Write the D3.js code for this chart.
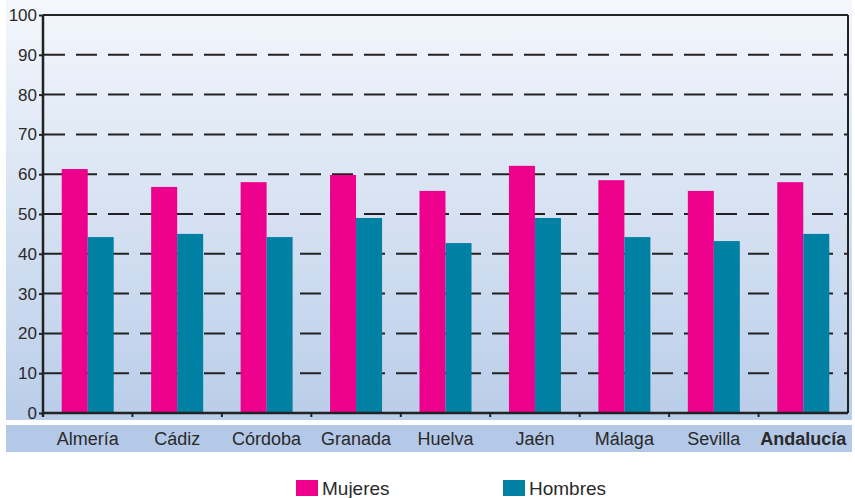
<!DOCTYPE html>
<html><head><meta charset="utf-8">
<script src="https://cdn.jsdelivr.net/npm/d3@7"></script>
<style>body{margin:0;background:#fff}svg{display:block}text{font-family:"Liberation Sans",Arial,sans-serif;fill:#2a2a2a}</style>
</head><body><svg id="c" width="855" height="498"></svg>
<script>
const categories = ["Almería","Cádiz","Córdoba","Granada","Huelva","Jaén","Málaga","Sevilla","Andalucía"];
const mujeres = [61.3,56.8,58.0,59.8,55.8,62.1,58.5,55.8,58.0];
const hombres = [44.2,45.0,44.2,49.0,42.7,49.0,44.2,43.2,45.0];
const seriesNames = ["Mujeres","Hombres"];
const seriesColors = ["#ec008c","#0080a3"];
const yTicks = [0,10,20,30,40,50,60,70,80,90,100];

const svg = d3.select("#c");
const L=43,R=848,T=15,B=413;
const defs = svg.append("defs");
const g = defs.append("linearGradient").attr("id","bg").attr("x1",0).attr("y1",0).attr("x2",0).attr("y2",1);
g.append("stop").attr("offset","0%").attr("stop-color","#f4f7fc");
g.append("stop").attr("offset","100%").attr("stop-color","#b9cde9");
svg.append("rect").attr("x",6).attr("y",0).attr("width",846).attr("height",420).attr("fill","url(#bg)");
svg.append("rect").attr("x",6).attr("y",425).attr("width",846).attr("height",27).attr("fill","#b4c8e7");

const x0 = d3.scaleBand().domain(categories).range([L,R]).padding(0);
const x1 = d3.scaleBand().domain(seriesNames).range([0,x0.bandwidth()]).paddingInner(0).paddingOuter(0.72);
const y = d3.scaleLinear().domain([0,100]).range([B,T]);

// gridlines
svg.append("g").selectAll("line").data(yTicks.filter(t=>t>0&&t<100)).join("line")
  .attr("x1",L).attr("x2",R).attr("y1",d=>y(d)).attr("y2",d=>y(d))
  .attr("stroke","#222").attr("stroke-width",2).attr("stroke-dasharray","21,11").attr("stroke-dashoffset",31);

// bars
const data = categories.map((c,i)=>({c, vals:[mujeres[i],hombres[i]]}));
const grp = svg.append("g").selectAll("g").data(data).join("g").attr("transform",d=>`translate(${x0(d.c)},0)`);
grp.selectAll("rect").data(d=>d.vals.map((v,j)=>({k:seriesNames[j],v,j}))).join("rect")
  .attr("x",d=>x1(d.k)).attr("width",x1.bandwidth())
  .attr("y",d=>y(d.v)).attr("height",d=>B-y(d.v)).attr("fill",d=>seriesColors[d.j]);

// frame
svg.append("line").attr("x1",L).attr("x2",R).attr("y1",T).attr("y2",T).attr("stroke","#222").attr("stroke-width",2);
svg.append("line").attr("x1",R).attr("x2",R).attr("y1",T).attr("y2",B).attr("stroke","#222").attr("stroke-width",2);

// y axis
const ya = svg.append("g").attr("transform",`translate(${L},0)`).call(d3.axisLeft(y).tickValues(yTicks).tickSize(4).tickPadding(2));
ya.select(".domain").attr("stroke","#222").attr("stroke-width",2.5).attr("d",`M0,${T}V${B+4}`);
ya.selectAll(".tick line").attr("stroke","#222").attr("stroke-width",2);
ya.selectAll(".tick text").attr("font-size",17).attr("fill","#2a2a2a").style("font-family","'Liberation Sans',Arial,sans-serif");

// x axis
const boundaries = categories.slice(1).map(c=>x0(c));
svg.append("line").attr("x1",L).attr("x2",R).attr("y1",B).attr("y2",B).attr("stroke","#222").attr("stroke-width",2.5);
svg.append("g").selectAll("line").data(boundaries).join("line")
  .attr("x1",d=>d).attr("x2",d=>d).attr("y1",B).attr("y2",B+4).attr("stroke","#222").attr("stroke-width",2);
svg.append("g").selectAll("text").data(categories).join("text")
  .attr("x",d=>x0(d)+x0.bandwidth()/2).attr("y",445).attr("text-anchor","middle")
  .attr("font-size",18).attr("font-weight",d=>d==="Andalucía"?"bold":"normal").text(d=>d);

// legend
const lx = [296,503];
const lg = svg.append("g").selectAll("g").data(seriesNames).join("g").attr("transform",(d,i)=>`translate(${lx[i]},0)`);
lg.append("rect").attr("x",0).attr("y",480).attr("width",22).attr("height",16).attr("fill",(d,i)=>seriesColors[i]);
lg.append("text").attr("x",26).attr("y",495).attr("font-size",19).text(d=>d);
</script></body></html>
